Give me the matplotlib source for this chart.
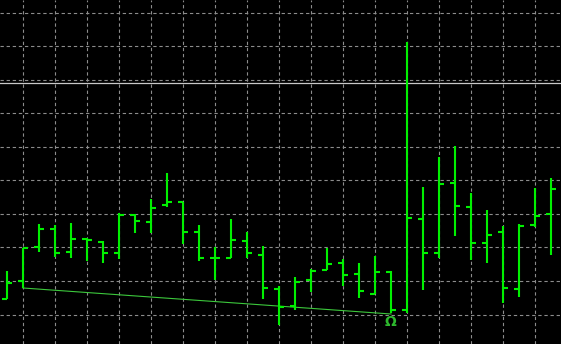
import matplotlib
matplotlib.use('Agg')
import matplotlib.pyplot as plt
import numpy as np

# OHLC bars, price in chart points
opens  = [45, 63, 97, 115, 92, 105, 102, 91, 129, 122, 139, 142, 112, 86, 86, 103, 89, 55,
          38, 64, 74, 81, 70, 50, 72, 34, 125, 91, 161, 137, 101, 112, 55, 119, 130]
highs  = [73, 96, 120, 119, 121, 106, 103, 131, 130, 145, 171, 142, 119, 97, 125, 112, 98, 58,
          67, 75, 96, 85, 81, 88, 73, 302, 157, 187, 198, 151, 134, 118, 120, 156, 166]
lows   = [45, 56, 92, 87, 86, 83, 81, 85, 111, 111, 137, 100, 83, 64, 86, 86, 45, 19,
          34, 52, 74, 58, 46, 50, 31, 31, 54, 86, 108, 84, 81, 41, 47, 117, 89]
closes = [61, 96, 115, 91, 105, 104, 91, 129, 123, 136, 142, 112, 86, 86, 104, 91, 56, 37,
          62, 73, 80, 69, 53, 72, 34, 126, 91, 160, 138, 101, 109, 56, 118, 128, 155]

# objects drawn on the chart
trend_x = [1, 24]
trend_y = [56, 30]
hline_level = 261
arrow_x, arrow_y = 24, 22

grid_y0, grid_step = 29.5, 33.55

fig = plt.figure(figsize=(5.61, 3.44), dpi=100)
fig.patch.set_facecolor('black')
ax = fig.add_axes([0, 0, 1, 1])
ax.set_facecolor('black')

n = len(opens)
x = np.arange(n)
ax.set_xlim(-7 / 16, (561 - 7) / 16)
ax.set_ylim(0, 344)

# grid
for gx in range(1, n, 2):
    ax.axvline(gx, color='#8c8c8c', lw=0.8, ls=(0, (3, 2.5)), zorder=1)
gy = grid_y0
while gy < 344:
    ax.axhline(gy, color='#8c8c8c', lw=0.8, ls=(0, (3, 2.5)), zorder=1)
    gy += grid_step

ax.axhline(hline_level, color='#c8c8c8', lw=0.9, zorder=2)

# bars
bar_col = '#00f000'
tick = 0.3
ax.vlines(x, lows, highs, color=bar_col, lw=1.5, zorder=3)
ax.hlines(opens, x - tick, x, color=bar_col, lw=1.5, zorder=3)
ax.hlines(closes, x, x + tick, color=bar_col, lw=1.5, zorder=3)

ax.plot(trend_x, trend_y, color='#3cc83c', lw=0.8, zorder=2)
ax.text(arrow_x, arrow_y, 'Ω', color='#2db82d', fontsize=10, fontweight='bold',
        ha='center', va='center', zorder=4)

ax.axis('off')
fig.savefig('out.png', dpi=100, facecolor='black')
